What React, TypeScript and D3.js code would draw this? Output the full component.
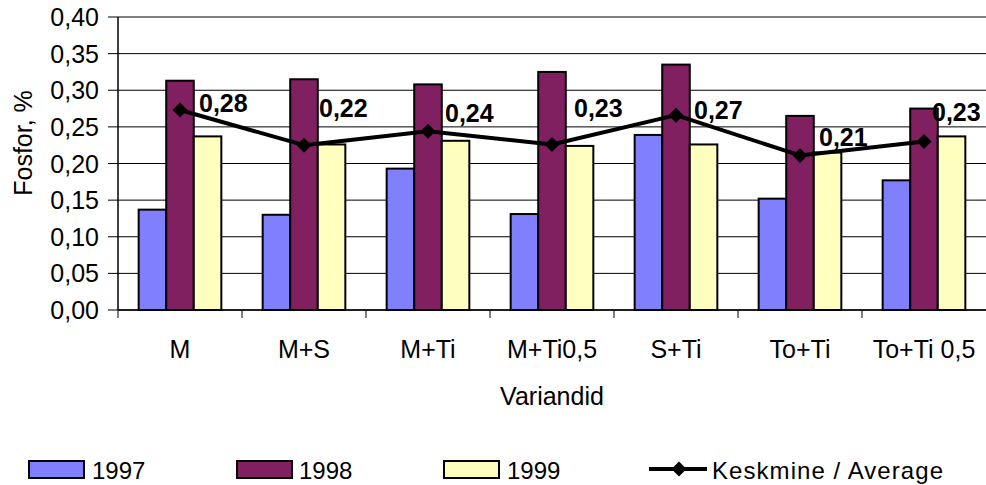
import React from "react";
import * as d3 from "d3";

const categories = ["M", "M+S", "M+Ti", "M+Ti0,5", "S+Ti", "To+Ti", "To+Ti 0,5"];
const series1997 = [0.137, 0.130, 0.193, 0.131, 0.239, 0.152, 0.177];
const series1998 = [0.313, 0.315, 0.308, 0.325, 0.335, 0.265, 0.275];
const series1999 = [0.237, 0.226, 0.231, 0.224, 0.226, 0.215, 0.237];
const average = [0.273, 0.225, 0.244, 0.226, 0.266, 0.211, 0.230];
const averageLabels = ["0,28", "0,22", "0,24", "0,23", "0,27", "0,21", "0,23"];
const yTicks = [0, 0.05, 0.1, 0.15, 0.2, 0.25, 0.3, 0.35, 0.4];
const seriesNames = ["1997", "1998", "1999"];
const lineName = "Keskmine / Average";
const yTitle = "Fosfor, %";
const xTitle = "Variandid";

// label placement offsets (px) relative to markers
const labelOffsets: [number, number][] = [
  [19, 2], [15, -28], [17, -9], [22, -27], [18, 4], [19, -9], [8, -21],
];

const colors = ["#8080FF", "#802060", "#FFFFC0"];
const FONT = "'Liberation Sans', Arial, sans-serif";

export default function App() {
  const W = 986, H = 485;
  const left = 118, right = 986, top = 17, bottom = 310;

  const x = d3.scaleBand<string>().domain(categories).range([left, right]).padding(0);
  const y = d3.scaleLinear().domain([0, 0.4]).range([bottom, top]);
  const bw = x.bandwidth();
  const barW = bw / 4.5;
  const series = [series1997, series1998, series1999];
  const fmt = (v: number) => d3.format(".2f")(v).replace(".", ",");

  const cx = (c: string) => (x(c) as number) + bw / 2;
  const line = d3.line<number>().x((_, i) => cx(categories[i])).y((d) => y(d));

  const diamond = (px: number, py: number, r: number) =>
    `M${px},${py - r}L${px + r},${py}L${px},${py + r}L${px - r},${py}Z`;

  const legendBoxes = [29, 237, 444];
  const legendTexts = [92, 299, 507];

  return (
    <svg width={W} height={H} style={{ position: "absolute", left: 0, top: 0, display: "block" }}
      fontFamily={FONT}>
      <rect x={0} y={0} width={W} height={H} fill="#fff" />
      {/* gridlines + y ticks */}
      {yTicks.map((t) => (
        <g key={t}>
          <line x1={left - 10} x2={right} y1={y(t)} y2={y(t)} stroke="#000" strokeWidth={1} />
          <text x={99} y={y(t) + 9} textAnchor="end" fontSize={25} fill="#000">{fmt(t)}</text>
        </g>
      ))}
      {/* bars */}
      {categories.map((c, i) => (
        <g key={c}>
          {series.map((s, j) => {
            const bx = (x(c) as number) + bw / 2 - 1.5 * barW + j * barW;
            return (
              <rect key={j} x={bx} y={y(s[i])} width={barW} height={bottom - y(s[i])}
                fill={colors[j]} stroke="#000" strokeWidth={2} />
            );
          })}
        </g>
      ))}
      {/* axes */}
      <line x1={left} x2={left} y1={top} y2={bottom} stroke="#000" strokeWidth={1.5} />
      <line x1={left} x2={right} y1={bottom} y2={bottom} stroke="#000" strokeWidth={1.5} />
      {categories.map((c) => (
        <line key={"t" + c} x1={x(c) as number} x2={x(c) as number} y1={bottom} y2={bottom + 8}
          stroke="#000" strokeWidth={1} />
      ))}
      {categories.map((c) => (
        <text key={"l" + c} x={cx(c)} y={358} textAnchor="middle" fontSize={25} fill="#000">{c}</text>
      ))}
      {/* average line */}
      <path d={line(average) as string} fill="none" stroke="#000" strokeWidth={4} strokeLinejoin="round" />
      {average.map((v, i) => (
        <path key={"m" + i} d={diamond(cx(categories[i]), y(v), 7.5)} fill="#000" />
      ))}
      {average.map((v, i) => (
        <text key={"a" + i} x={cx(categories[i]) + labelOffsets[i][0]} y={y(v) + labelOffsets[i][1]}
          fontSize={25} fontWeight="bold" fill="#000">{averageLabels[i]}</text>
      ))}
      {/* titles */}
      <text x={552} y={405} textAnchor="middle" fontSize={25} fill="#000">{xTitle}</text>
      <text transform={`translate(32,143) rotate(-90)`} textAnchor="middle" fontSize={25} fill="#000">{yTitle}</text>
      {/* legend */}
      {seriesNames.map((n, j) => (
        <g key={n}>
          <rect x={legendBoxes[j]} y={461} width={55} height={17} fill={colors[j]} stroke="#000" strokeWidth={2} />
          <text x={legendTexts[j]} y={479} fontSize={24} fill="#000">{n}</text>
        </g>
      ))}
      <line x1={649} x2={707} y1={469} y2={469} stroke="#000" strokeWidth={4} />
      <path d={diamond(679, 469, 7.5)} fill="#000" />
      <text x={712} y={479} fontSize={24} fill="#000" textLength={231} lengthAdjust="spacing">{lineName}</text>
    </svg>
  );
}
